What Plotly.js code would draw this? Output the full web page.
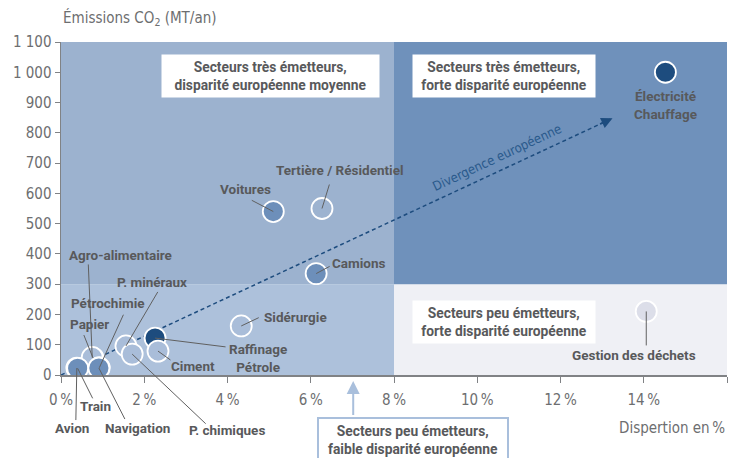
<!DOCTYPE html>
<html>
<head>
<meta charset="utf-8">
<script src="https://cdn.plot.ly/plotly-3.0.1.min.js"></script>
<style>html,body{margin:0;padding:0;background:#fff}#chart{width:742px;height:458px}</style>
</head>
<body>
<div id="chart"></div>
<script>
// ---- data ----
var sectors = ['Électricité<br>Chauffage','Gestion des déchets','Tertière / Résidentiel','Voitures','Camions','Sidérurgie','Raffinage<br>Pétrole','Ciment','P. minéraux','P. chimiques','Papier','Agro-alimentaire','Pétrochimie','Avion','Train','Navigation'];
var dispersion = [14.52, 14.06, 6.27, 5.10, 6.13, 4.33, 2.26, 2.33, 1.56, 1.71, 0.77, 0.75, 0.92, 0.38, 0.40, 0.91];
var emissions  = [1000, 210, 550, 540, 335, 162, 122, 79, 96, 69, 56, 58, 24, 23, 22, 23];
var tone       = ['dark','pale','hollow','mid','mid','light','dark','light','light','light','light','light','mid','mid','mid','mid'];
var regionX = [0, 8, 16];
var regionY = [0, 300, 1100];
var divergenceX = [0, 13.25];
var divergenceY = [0, 848];
var xTickVals = [0, 2, 4, 6, 8, 10, 12, 14, 16];
var xTickText = ['0\u202f%','2\u202f%','4\u202f%','6\u202f%','8\u202f%','10\u202f%','12\u202f%','14\u202f%','16\u202f%'];
var yTickVals = [0,100,200,300,400,500,600,700,800,900,1000,1100];
var yTickText = ['0','100','200','300','400','500','600','700','800','900','1\u00a0000','1\u00a0100'];

// ---- styles ----
var FONT = '"DejaVu Sans Condensed", "Liberation Sans", sans-serif';
var LFONT = 'Roboto, "Liberation Sans", sans-serif';
var toneColor = {dark:'#1d4c7e', mid:'#6d8fba', light:'#a9bdd9', hollow:'#9db3d0', pale:'#dcdee9'};
// label text centre offsets (px) and leader tail offsets (px) relative to the point
var labelOff = [[0,33],[-12,44],[18,-39],[-28,-23],[43,-11],[54,-9],[103,20],[35,15],[26,-64],[95,76],[-4,-34],[28,-102],[9,-65],[-5,60],[18,38],[39,60]];
var leaderOff = [null,[0,36],[8,-26],[-23,-12],[15,-8],[19,-9],[72,9],[14,10],[33,-56],[75,71],[-10,-25],[-4,-95],[25,-55],[-1,54],[16,32],[27,53]];

var traces = [
  {x: divergenceX, y: divergenceY, mode:'lines', type:'scatter', hoverinfo:'skip',
   line:{color:'#1d4c7e', width:1.5, dash:'4px,3px'}},
  {x: dispersion, y: emissions, mode:'markers', type:'scatter', text: sectors, hoverinfo:'text',
   marker:{size:21, color: tone.map(function(t){return toneColor[t];}), line:{color:'#ffffff', width:1.8}}}
];

var bgCols = [['#adc1db','#eff0f5'],['#9cb2cf','#6f91bb']];
var shapes = [];
for (var i=0;i<2;i++){ for (var j=0;j<2;j++){
  shapes.push({type:'rect', xref:'x', yref:'y', layer:'below', x0:regionX[j], x1:regionX[j+1], y0:regionY[i], y1:regionY[i+1], fillcolor:bgCols[i][j], line:{width:0}});
}}

var ann = [];
var labelFont = {family:LFONT, size:13.5, color:'#58595b'};
for (var k=0;k<sectors.length;k++){
  ann.push({x:dispersion[k], y:emissions[k], xref:'x', yref:'y', text:'<b>'+sectors[k]+'</b>', showarrow:false,
    xanchor:'center', yanchor:'middle', xshift:labelOff[k][0], yshift:-labelOff[k][1], font:labelFont});
  if (leaderOff[k]) {
    ann.push({x:dispersion[k], y:emissions[k], xref:'x', yref:'y', text:' ', font:{size:1}, showarrow:true,
      arrowhead:0, arrowwidth:1, arrowcolor:'#606060', ax:leaderOff[k][0], ay:leaderOff[k][1], standoff:0, startstandoff:0});
  }
}
// divergence arrow head
ann.push({x:divergenceX[1], y:divergenceY[1], xref:'x', yref:'y', text:' ', font:{size:1}, showarrow:true,
  arrowhead:2, arrowsize:1.4, arrowwidth:1.6, arrowcolor:'#1d4c7e', ax:-14, ay:6.5, standoff:0});
ann.push({x:10.48, y:717, xref:'x', yref:'y', xanchor:'center', yanchor:'middle', text:'Divergence européenne', showarrow:false, textangle:-25,
  font:{family:FONT, size:13, color:'#2a5a8c'}});
// region boxes
var boxFont = {family:LFONT, size:13.8, color:'#58595b'};
function box(x, y, txt, w, extra){
  var a = {xref:'paper', yref:'paper', x:x, y:y, xanchor:'center', yanchor:'middle', text:'<b>'+txt+'</b>', showarrow:false,
    bgcolor:'#ffffff', borderpad:3, width:w, height:36, font:boxFont};
  for (var key in (extra||{})) a[key] = extra[key];
  ann.push(a);
}
box(0.3153, 0.898, 'Secteurs très émetteurs,<br>disparité européenne moyenne', 211);
box(0.665, 0.898, 'Secteurs très émetteurs,<br>forte disparité européenne', 176);
box(0.665, 0.159, 'Secteurs peu émetteurs,<br>forte disparité européenne', 176);
box(0.5285, -0.195, 'Secteurs peu émetteurs,<br>faible disparité européenne', 182, {bordercolor:'#a9bfdc', borderwidth:2});
ann.push({xref:'x', yref:'paper', x:7.02, y:-0.018, text:' ', font:{size:1}, showarrow:true,
  arrowhead:2, arrowsize:1.3, arrowwidth:2, arrowcolor:'#a9bfdc', ax:0, ay:36, standoff:0});
// axis titles
ann.push({xref:'paper', yref:'paper', x:0.0, y:1.072, xanchor:'left', yanchor:'middle', showarrow:false,
  text:'Émissions CO<sub>2</sub> (MT/an)', font:{family:FONT, size:15, color:'#6d6e70'}});
ann.push({xref:'paper', yref:'paper', x:1.0, y:-0.159, xanchor:'right', yanchor:'middle', showarrow:false,
  text:'Dispertion en\u202f%', font:{family:FONT, size:15, color:'#6d6e70'}});

var layout = {
  width:742, height:458, margin:{l:61, r:15, t:42, b:83},
  paper_bgcolor:'#ffffff', plot_bgcolor:'#ffffff', showlegend:false,
  xaxis:{range:[0,16], tickvals:xTickVals, ticktext:xTickText, showgrid:false, zeroline:false,
    showline:true, linecolor:'#808285', linewidth:2, ticks:'outside', ticklen:6, tickcolor:'#808285', tickwidth:1,
    ticklabelstandoff:4, tickfont:{family:FONT, size:15, color:'#6d6e70'}},
  yaxis:{range:[0,1100], tickvals:yTickVals, ticktext:yTickText, showgrid:false, zeroline:false,
    showline:true, linecolor:'#808285', linewidth:1.5, ticks:'outside', ticklen:5, tickcolor:'#808285', tickwidth:1,
    tickfont:{family:FONT, size:15, color:'#6d6e70'}},
  shapes:shapes, annotations:ann
};
Plotly.newPlot('chart', traces, layout, {staticPlot:true, displayModeBar:false});
</script>
</body>
</html>
